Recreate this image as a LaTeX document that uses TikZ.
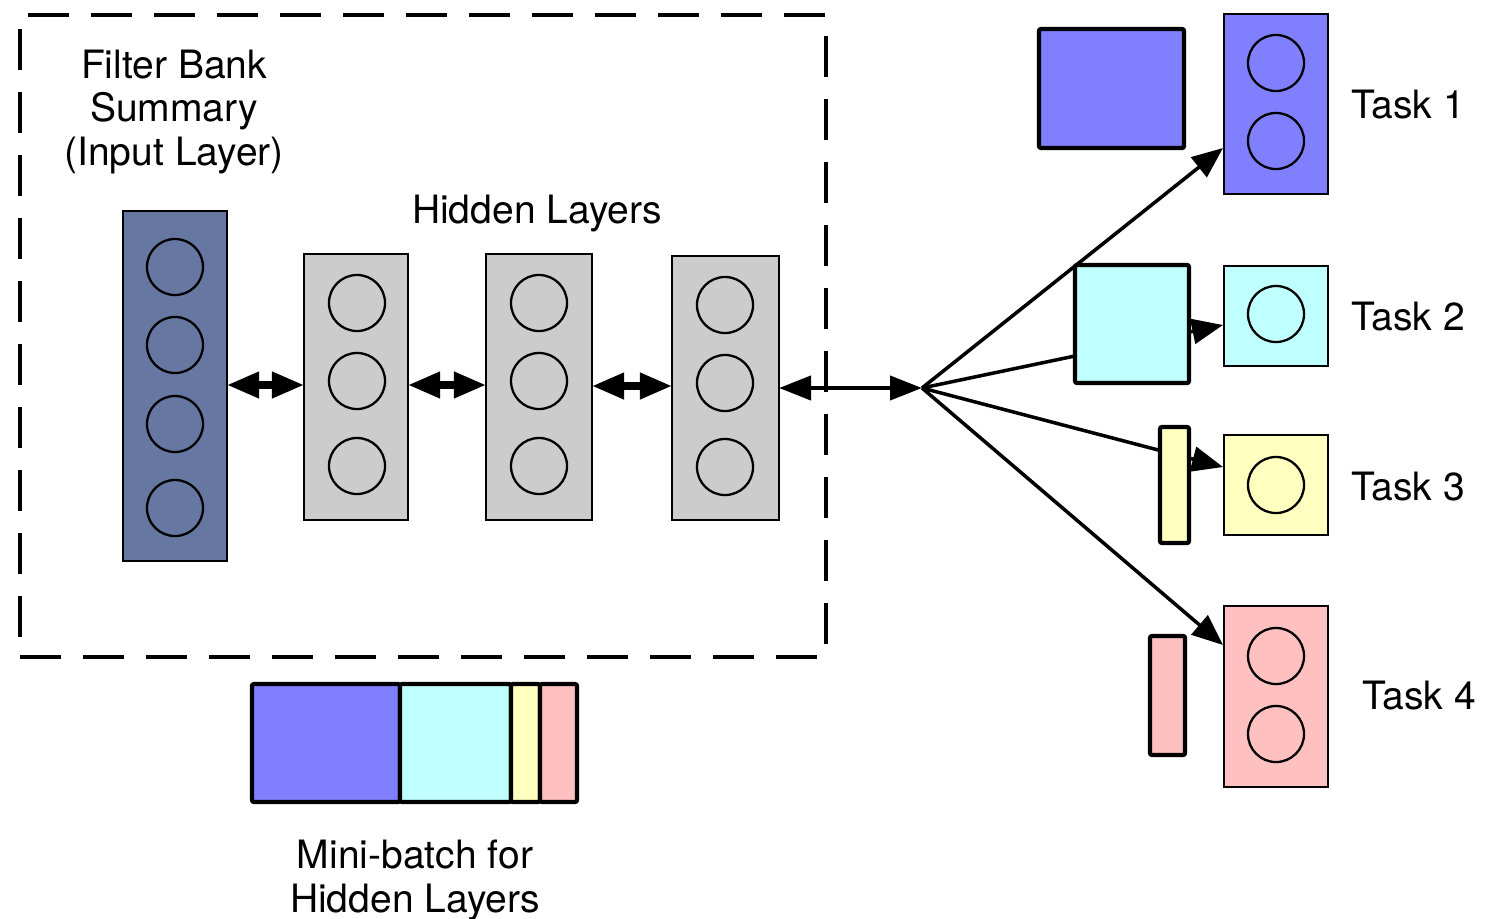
\documentclass[tikz,border=0pt]{standalone}
\usepackage{fontspec}
\setmainfont{TeX Gyre Heros}
\usetikzlibrary{arrows.meta}
\definecolor{inblue}{RGB}{102,119,161}
\definecolor{hgray}{RGB}{204,204,204}
\definecolor{tblue}{RGB}{128,128,255}
\definecolor{tcyan}{RGB}{192,255,255}
\definecolor{tyellow}{RGB}{255,255,192}
\definecolor{tpink}{RGB}{255,192,192}
\begin{document}
\begin{tikzpicture}[x=0.01cm,y=-0.01cm,
  lay/.style={draw, line width=0.5pt, rectangle, inner sep=0pt, outer sep=0pt},
  neuron/.style={draw, circle, line width=0.65pt, minimum size=0.56cm, inner sep=0pt},
  thickbox/.style={draw, line width=1.2pt, rounded corners=0.6pt, rectangle, inner sep=0pt, outer sep=0pt},
  dbl/.style={{Triangle[length=0.32cm,width=0.25cm]}-{Triangle[length=0.32cm,width=0.25cm]}, line width=2pt},
  lastarrow/.style={{Triangle[length=0.32cm,width=0.24cm]}-{Triangle[length=0.32cm,width=0.24cm]}, line width=1.2pt},
  fan/.style={-{Triangle[length=0.31cm,width=0.25cm]}, line width=1pt},
  dashbox/.style={draw, line width=1.1pt, dash pattern=on 0.41cm off 0.22cm, rectangle, inner sep=0pt, outer sep=0pt},
  lbl/.style={font=\fontsize{11.1}{12.5}\selectfont, align=center, inner sep=0pt}
]
\useasboundingbox (0,0) rectangle (1489,918);

% dashed frame
\node[dashbox, minimum width=8.06cm, minimum height=6.42cm] (frame) at (423,336) {};

% labels
\node[lbl] (fbtext) at (174,112) {Filter Bank\\Summary\\(Input Layer)};
\node[lbl] (hltext) at (537,214) {Hidden Layers};

% input layer
\node[lay, fill=inblue, minimum width=1.04cm, minimum height=3.50cm] (in) at (175,386) {};
\node[neuron] (in1) at (175,267) {};
\node[neuron] (in2) at (175,345) {};
\node[neuron] (in3) at (175,424) {};
\node[neuron] (in4) at (175,508) {};

% hidden layers
\node[lay, fill=hgray, minimum width=1.04cm, minimum height=2.66cm] (h1) at (356,387) {};
\node[neuron] (h11) at (357,303) {};
\node[neuron] (h12) at (357,381) {};
\node[neuron] (h13) at (357,466) {};

\node[lay, fill=hgray, minimum width=1.06cm, minimum height=2.66cm] (h2) at (539,387) {};
\node[neuron] (h21) at (539,303) {};
\node[neuron] (h22) at (539,381) {};
\node[neuron] (h23) at (539,466) {};

\node[lay, fill=hgray, minimum width=1.07cm, minimum height=2.64cm] (h3) at (725.5,388) {};
\node[neuron] (h31) at (725,305) {};
\node[neuron] (h32) at (725,383) {};
\node[neuron] (h33) at (725,467) {};

% arrows between layers
\draw[dbl] (in.east |- 0,385) -- (h1.west |- 0,385);
\draw[dbl] (h1.east |- 0,385) -- (h2.west |- 0,385);
\draw[dbl] (h2.east |- 0,386) -- (h3.west |- 0,386);

\coordinate (hub) at (922,388);
\draw[lastarrow] (h3.east |- 0,388) -- (hub);

% task heads
\node[lay, fill=tblue, minimum width=1.04cm, minimum height=1.80cm] (t1) at (1276,104) {};
\node[neuron] (t11) at (1276,63) {};
\node[neuron] (t12) at (1276,141) {};
\node[lay, fill=tcyan, minimum width=1.04cm, minimum height=1.00cm] (t2) at (1276,316) {};
\node[neuron] (t21) at (1276,314) {};
\node[lay, fill=tyellow, minimum width=1.04cm, minimum height=1.00cm] (t3) at (1276,485) {};
\node[neuron] (t31) at (1276,485) {};
\node[lay, fill=tpink, minimum width=1.04cm, minimum height=1.81cm] (t4) at (1276,696.5) {};
\node[neuron] (t41) at (1276,656) {};
\node[neuron] (t42) at (1276,734) {};

% fan connectors
\coordinate (e1) at (1223,148);
\coordinate (e2) at (1223,325);
\coordinate (e3) at (1223,467);
\coordinate (e4) at (1223,645);
\draw[fan] (hub) -- (e1);
\draw[fan] (hub) -- (e2);
\draw[fan] (hub) -- (e3);
\draw[fan] (hub) -- (e4);

% per-task data blocks
\node[thickbox, fill=tblue, minimum width=1.45cm, minimum height=1.19cm] (b1) at (1111.5,88.5) {};
\node[thickbox, fill=tcyan, minimum width=1.14cm, minimum height=1.18cm] (b2) at (1132,324) {};
\node[thickbox, fill=tyellow, minimum width=0.29cm, minimum height=1.16cm] (b3) at (1174.5,485) {};
\node[thickbox, fill=tpink, minimum width=0.35cm, minimum height=1.19cm] (b4) at (1167.5,695.5) {};

% task labels
\node[lbl, anchor=west] (l1) at (1351,105) {Task 1};
\node[lbl, anchor=west] (l2) at (1351,317) {Task 2};
\node[lbl, anchor=west] (l3) at (1351,487) {Task 3};
\node[lbl, anchor=west] (l4) at (1362,696) {Task 4};

% mini-batch
\node[thickbox, fill=tblue, minimum width=1.48cm, minimum height=1.18cm] (m1) at (326,743) {};
\node[thickbox, fill=tcyan, minimum width=1.11cm, minimum height=1.18cm] (m2) at (455.5,743) {};
\node[thickbox, fill=tyellow, minimum width=0.29cm, minimum height=1.18cm] (m3) at (525.5,743) {};
\node[thickbox, fill=tpink, minimum width=0.37cm, minimum height=1.18cm] (m4) at (558.5,743) {};
\node[lbl] (mbtext) at (415,880) {Mini-batch for\\Hidden Layers};
\end{tikzpicture}
\end{document}
